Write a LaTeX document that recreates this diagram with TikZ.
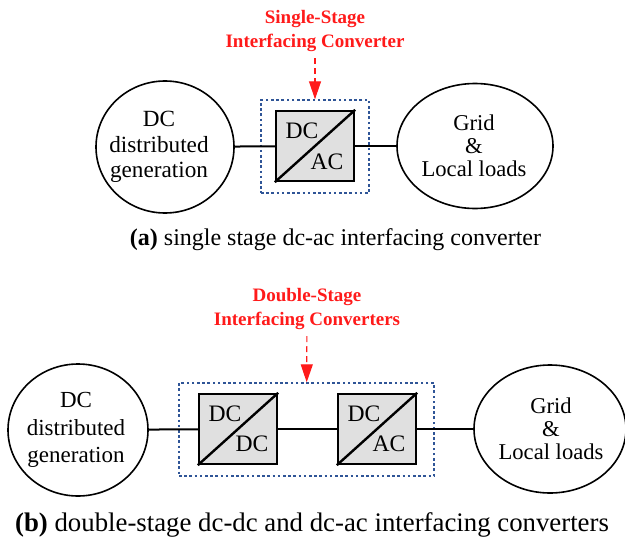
\documentclass[tikz,border=0pt]{standalone}
\usepackage{fontspec}
\setmainfont{Liberation Serif}
\usetikzlibrary{shapes.geometric,arrows.meta}
\definecolor{grpblue}{HTML}{2F5597}
\definecolor{convgray}{HTML}{E0E0E0}
\definecolor{tagred}{HTML}{FF1A1A}
\tikzset{
  x=0.5pt, y=-0.5pt,
  blob/.style={ellipse, draw, line width=0.8pt, inner sep=0pt},
  blobtxt/.style={align=center, inner sep=0pt,
    font=\fontsize{11.6}{12.6}\selectfont},
  widetxt/.style={align=center, inner sep=0pt,
    font=\fontsize{11.5}{13.8}\selectfont},
  loadtxt/.style={align=center, inner sep=0pt,
    font=\fontsize{11.3}{11.6}\selectfont},
  conv/.style={draw, line width=1.2pt, fill=convgray, inner sep=0pt,
    minimum width=39pt, minimum height=35pt},
  convtxt/.style={inner sep=0pt, font=\fontsize{11.8}{13}\selectfont},
  grp/.style={draw=grpblue, line width=0.7pt, dash pattern=on 1.3pt off 1.3pt,
    inner sep=0pt},
  tag/.style={text=tagred, align=center, inner sep=1pt,
    font=\fontsize{9.5}{12}\selectfont\bfseries},
  tagarrow/.style={draw=tagred, line width=0.6pt, dash pattern=on 3pt off 2pt,
    -{Triangle[length=9pt,width=6pt,fill=tagred]}, shorten <=2pt},
  wire/.style={line width=1pt},
  divider/.style={line width=1.2pt}
}
\begin{document}
\begin{tikzpicture}
\useasboundingbox (0,0) rectangle (625,540);

% ---- (a) single-stage system ----
\node[blob, minimum width=69pt, minimum height=66pt] (dgA) at (165,147) {};
\node[blobtxt] (dgAt) at (159,147) {DC\\distributed\\generation};
\node[conv] (cA) at (315,146) {};
\draw[divider] (cA.south west) -- (cA.north east);
\node[convtxt] (cAin)  at (302,131) {DC};
\node[convtxt] (cAout) at (327,162) {AC};
\node[grp, minimum width=54pt, minimum height=46.5pt] (gA) at (315,146.5) {};
\node[blob, minimum width=78pt, minimum height=62.5pt] (ldA) at (475,146) {};
\node[loadtxt] (ldAt) at (474,146) {Grid\\\&\\Local loads};
\draw[wire] (dgA) -- (cA);
\draw[wire] (cA) -- (ldA);
\node[tag] (tA) at (315,31) {Single-Stage\\Interfacing Converter};
\draw[tagarrow] (tA) -- (gA);
\node[inner sep=0pt, font=\fontsize{12}{14}\selectfont] (capA) at (335.5,240)
  {\textbf{(a)} single stage dc-ac interfacing converter};

% ---- (b) double-stage system ----
\node[blob, minimum width=70pt, minimum height=66pt] (dgB) at (78,430) {};
\node[widetxt] (dgBt) at (76,430) {DC\\distributed\\generation};
\node[conv] (cB1) at (238,429) {};
\draw[divider] (cB1.south west) -- (cB1.north east);
\node[convtxt] (cB1in)  at (225,414) {DC};
\node[convtxt] (cB1out) at (252,444) {DC};
\node[conv] (cB2) at (377,429) {};
\draw[divider] (cB2.south west) -- (cB2.north east);
\node[convtxt] (cB2in)  at (364,414) {DC};
\node[convtxt] (cB2out) at (389,444) {AC};
\node[grp, minimum width=127.5pt, minimum height=46.5pt] (gB) at (306.5,429.5) {};
\node[blob, minimum width=76pt, minimum height=64pt] (ldB) at (550,429) {};
\node[loadtxt] (ldBt) at (551,429) {Grid\\\&\\Local loads};
\draw[wire] (dgB) -- (cB1);
\draw[wire] (cB1) -- (cB2);
\draw[wire] (cB2) -- (ldB);
\node[tag] (tB) at (307,309) {Double-Stage\\Interfacing Converters};
\draw[tagarrow] (tB) -- (gB);
\node[inner sep=0pt, font=\fontsize{13.4}{15}\selectfont] (capB) at (312,525)
  {\textbf{(b)} double-stage dc-dc and dc-ac interfacing converters};
\end{tikzpicture}
\end{document}
